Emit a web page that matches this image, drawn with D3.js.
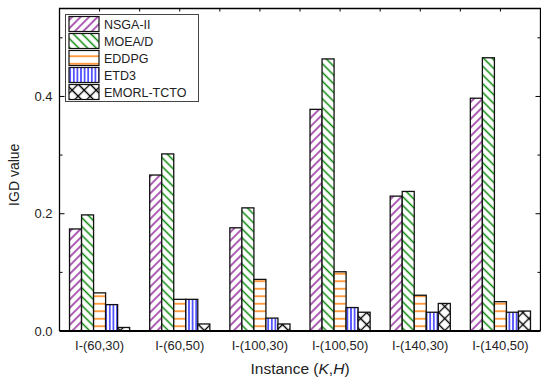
<!DOCTYPE html>
<html>
<head>
<meta charset="utf-8">
<script src="https://cdn.jsdelivr.net/npm/d3@7"></script>
<style>
  body { margin: 0; background: #fff; }
  text { font-family: "Liberation Sans", Arial, sans-serif; fill: #222; }
</style>
</head>
<body>
<div id="chart"></div>
<script>
// data
const categories = ["I-(60,30)", "I-(60,50)", "I-(100,30)", "I-(100,50)", "I-(140,30)", "I-(140,50)"];
const seriesNames = ["NSGA-II", "MOEA/D", "EDDPG", "ETD3", "EMORL-TCTO"];
const nsga = [0.174, 0.266, 0.176, 0.378, 0.230, 0.397];
const moead = [0.198, 0.302, 0.210, 0.464, 0.238, 0.466];
const eddpg = [0.065, 0.054, 0.088, 0.101, 0.061, 0.050];
const etd3 = [0.045, 0.054, 0.022, 0.040, 0.032, 0.032];
const emorl = [0.006, 0.012, 0.012, 0.032, 0.047, 0.034];
const yTicks = [0.0, 0.2, 0.4];

const seriesValues = [nsga, moead, eddpg, etd3, emorl];

const width = 541, height = 379;
const plotL = 59.5, plotR = 540.5, plotT = 8.5, plotB = 331;

const svg = d3.select("#chart").append("svg")
  .attr("width", width)
  .attr("height", height);

// hatch patterns
const defs = svg.append("defs");
function linePattern(id, color, size, angle, sw) {
  const p = defs.append("pattern")
    .attr("id", id)
    .attr("patternUnits", "userSpaceOnUse")
    .attr("width", size).attr("height", size)
    .attr("patternTransform", "rotate(" + angle + ")");
  p.append("rect").attr("width", size).attr("height", size).attr("fill", "#fff");
  p.append("line")
    .attr("x1", size / 2).attr("x2", size / 2)
    .attr("y1", 0).attr("y2", size)
    .attr("stroke", color).attr("stroke-width", sw);
}
linePattern("p0", "#8b1a96", 6, 45, 1.4);
linePattern("p1", "#0b8a0b", 6.2, -45, 1.5);
linePattern("p2", "#ff8a1a", 7.5, 90, 1.6);
linePattern("p3", "#1010ff", 3.6, 0, 1.3);
const cross = defs.append("pattern")
  .attr("id", "p4")
  .attr("patternUnits", "userSpaceOnUse")
  .attr("width", 8.5).attr("height", 8.5)
  .attr("patternTransform", "rotate(45)");
cross.append("rect").attr("width", 8.5).attr("height", 8.5).attr("fill", "#fff");
cross.append("path").attr("d", "M4.25,0V8.5M0,4.25H8.5")
  .attr("stroke", "#000").attr("stroke-width", 1.3);

const x0 = d3.scaleBand()
  .domain(categories)
  .range([plotL, plotR])
  .paddingInner(0.25)
  .paddingOuter(0.125);

const x1 = d3.scaleBand()
  .domain(seriesNames)
  .range([0, x0.bandwidth()]);

const y = d3.scaleLinear()
  .domain([0, 0.55])
  .range([plotB, plotT]);

// bars
seriesNames.forEach((name, si) => {
  svg.append("g").selectAll("rect")
    .data(seriesValues[si])
    .enter()
    .append("rect")
    .attr("x", (d, i) => x0(categories[i]) + x1(name))
    .attr("y", d => y(d))
    .attr("width", x1.bandwidth())
    .attr("height", d => y(0) - y(d))
    .attr("fill", "url(#p" + si + ")")
    .attr("stroke", "#111")
    .attr("stroke-width", 1.3);
});

// left axis labels
svg.append("g")
  .attr("transform", "translate(" + plotL + ",0)")
  .call(d3.axisLeft(y).tickValues(yTicks).tickFormat(d3.format(".1f")).tickSize(0).tickPadding(7))
  .call(g => g.select(".domain").remove())
  .selectAll("text")
  .style("font-size", "13px")
  .attr("fill", "#222");

// ticks pointing inward on left and right
const tickVals = [0.1, 0.2, 0.3, 0.4, 0.5];
tickVals.forEach(v => {
  const len = (Math.round(v * 10) % 2 === 0) ? 5 : 3;
  svg.append("line")
    .attr("x1", plotL).attr("x2", plotL + len)
    .attr("y1", y(v)).attr("y2", y(v))
    .attr("stroke", "#000").attr("stroke-width", 1);
  svg.append("line")
    .attr("x1", plotR - len).attr("x2", plotR)
    .attr("y1", y(v)).attr("y2", y(v))
    .attr("stroke", "#000").attr("stroke-width", 1);
});

// top axis ticks at every half band
const step = (plotR - plotL) / 12;
d3.range(1, 12).forEach(k => {
  svg.append("line")
    .attr("x1", plotL + k * step).attr("x2", plotL + k * step)
    .attr("y1", plotT).attr("y2", plotT + 3)
    .attr("stroke", "#000").attr("stroke-width", 1);
});

// frame
svg.append("path")
  .attr("d", "M" + plotL + "," + plotB + "V" + plotT + "H" + plotR + "V" + plotB)
  .attr("fill", "none")
  .attr("stroke", "#000")
  .attr("stroke-width", 1.3);
svg.append("line")
  .attr("x1", plotL).attr("x2", plotR)
  .attr("y1", plotB).attr("y2", plotB)
  .attr("stroke", "#000").attr("stroke-width", 2);

// category labels
svg.append("g")
  .attr("transform", "translate(0," + plotB + ")")
  .call(d3.axisBottom(x0).tickSize(0).tickPadding(10))
  .call(g => g.select(".domain").remove())
  .selectAll("text")
  .style("font-size", "13px")
  .attr("fill", "#222");

// axis titles
const xt = svg.append("text")
  .attr("x", (plotL + plotR) / 2)
  .attr("y", 374)
  .attr("text-anchor", "middle")
  .style("font-size", "15.5px");
xt.append("tspan").text("Instance (");
xt.append("tspan").style("font-style", "italic").text("K");
xt.append("tspan").text(",");
xt.append("tspan").style("font-style", "italic").text("H");
xt.append("tspan").text(")");

svg.append("text")
  .attr("transform", "translate(19," + ((plotT + plotB) / 2 + 5) + ")rotate(-90)")
  .attr("text-anchor", "middle")
  .style("font-size", "14px")
  .text("IGD value");

// legend
const lg = svg.append("g");
lg.append("rect")
  .attr("x", 65.5).attr("y", 14.5)
  .attr("width", 133).attr("height", 87)
  .attr("fill", "#fff")
  .attr("stroke", "#444")
  .attr("stroke-width", 1);
seriesNames.forEach((name, i) => {
  const ry = 16.5 + i * 17;
  lg.append("rect")
    .attr("x", 69).attr("y", ry)
    .attr("width", 30).attr("height", 15)
    .attr("fill", "url(#p" + i + ")")
    .attr("stroke", "#111")
    .attr("stroke-width", 1.2);
  lg.append("text")
    .attr("x", 104).attr("y", ry + 12)
    .style("font-size", "12.5px")
    .text(name);
});
</script>
</body>
</html>
